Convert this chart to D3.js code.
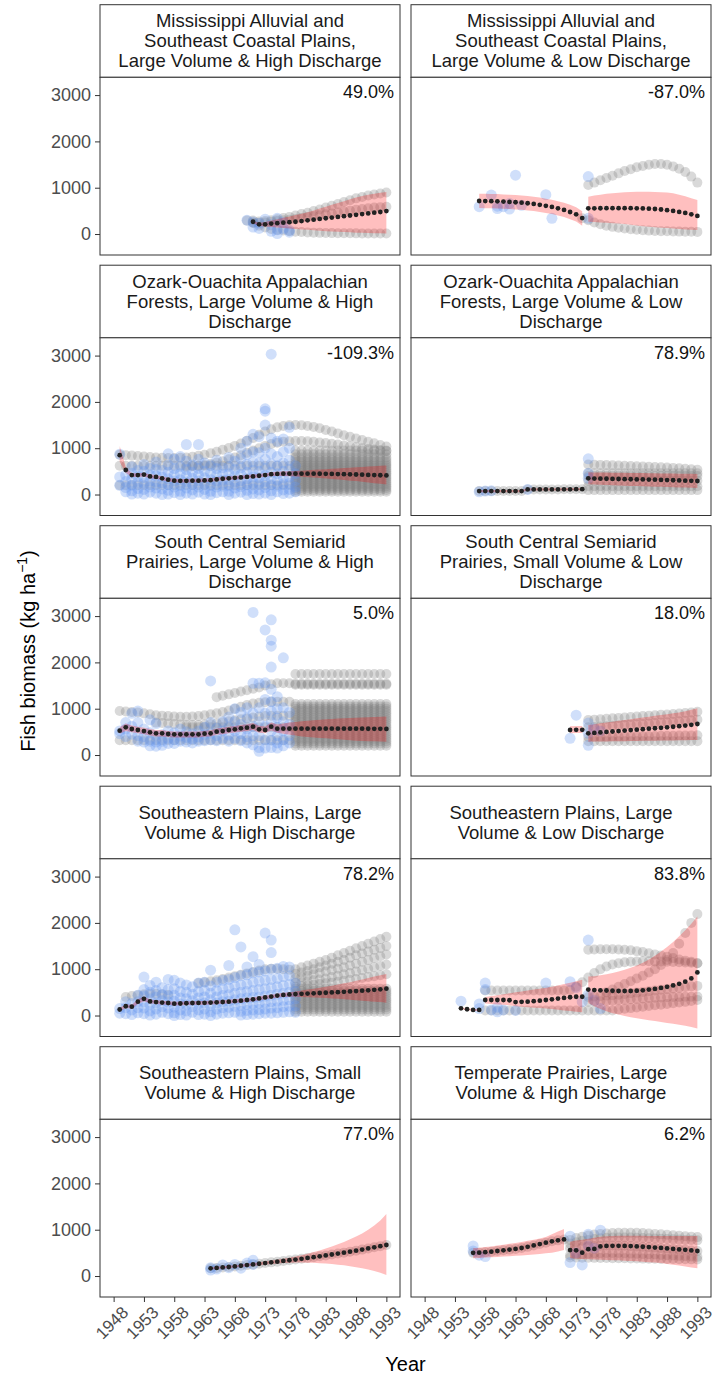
<!DOCTYPE html>
<html>
<head>
<meta charset="utf-8">
<script src="https://cdn.jsdelivr.net/npm/d3@7"></script>
<style>
  body { margin: 0; background: #fff; }
  svg { display: block; }
  text { font-family: "Liberation Sans", Arial, Helvetica, sans-serif; }
</style>
</head>
<body>
<svg id="chart"></svg>
<script>
// ---- axis ticks and facet labels
const xTickYears = [1948, 1953, 1958, 1963, 1968, 1973, 1978, 1983, 1988, 1993];
const yTickValues = [0, 1000, 2000, 3000];

const facetTitles = [
  ["Mississippi Alluvial and", "Southeast Coastal Plains,", "Large Volume & High Discharge"],
  ["Mississippi Alluvial and", "Southeast Coastal Plains,", "Large Volume & Low Discharge"],
  ["Ozark-Ouachita Appalachian", "Forests, Large Volume & High", "Discharge"],
  ["Ozark-Ouachita Appalachian", "Forests, Large Volume & Low", "Discharge"],
  ["South Central Semiarid", "Prairies, Large Volume & High", "Discharge"],
  ["South Central Semiarid", "Prairies, Small Volume & Low", "Discharge"],
  ["Southeastern Plains, Large", "Volume & High Discharge"],
  ["Southeastern Plains, Large", "Volume & Low Discharge"],
  ["Southeastern Plains, Small", "Volume & High Discharge"],
  ["Temperate Prairies, Large", "Volume & High Discharge"]
];
const pctLabels = ["49.0%", "-87.0%", "-109.3%", "78.9%", "5.0%", "18.0%", "78.2%", "83.8%", "77.0%", "6.2%"];

// mean series: [firstYear, values]  /  ribbons: [firstYear, lower, upper]
// grey trajectories: [firstYear, values]  /  grey flat runs: [fromYear, toYear, levels]
// observed (blue): [year, values]

// 1. Mississippi, large volume & high discharge
const missHighMean = [[1971, [265,210,210,225,235,245,255,265,280,295,310,325,340,355,370,385,400,415,430,445,460,475,495]]];
const missHighRibbon = [[1971,
  [230,180,165,150,140,130,120,110,100,90,80,70,62,55,48,42,36,30,26,22,18,15,12],
  [290,240,260,290,320,350,380,410,440,470,510,550,590,630,670,710,750,790,820,850,870,890,905]]];
const missHighGrey = [
  [1970, [290,290,270,280,300,320,345,370,400,430,460,495,530,570,610,650,690,730,770,800,830,855,875,895]],
  [1971, [250,240,250,265,280,295,310,325,345,365,385,405,425,445,465,485,505,525,540,555,570,580,590]],
  [1971, [240,180,140,110,90,75,60,50,42,35,30,25,22,20,18,16,15,14,13,12,12,12,12]]
];
const missHighFlat = [];
const missHighBlue = [[1970,[300]],[1971,[260,150]],[1972,[120,230]],[1973,[320]],[1974,[200,60]],[1975,[340,90,10]],[1976,[120,250]],[1977,[80,40]]];

// 2. Mississippi, large volume & low discharge
const missLowMean = [
  [1957, [713,712,710,706,700,694,686,676,664,650,630,608,585,555,520,475,425,345]],
  [1975, [555,555,556,557,558,558,558,557,555,552,548,540,530,515,498,478,455,425,390]]
];
const missLowRibbon = [
  [1957, [560,558,556,552,546,540,532,522,510,496,476,454,430,400,365,320,270,180],
         [870,868,866,862,856,850,842,832,820,806,786,764,740,710,675,630,580,490]],
  [1975, [266,258,250,242,235,228,215,200,185,170,158,148,138,128,118,108,100,92,86],
         [806,830,850,868,882,893,902,908,912,914,913,910,904,895,878,850,815,775,734]]
];
const missLowGrey = [
  [1975, [1060,1110,1160,1210,1260,1310,1360,1400,1440,1470,1495,1510,1510,1495,1460,1410,1340,1240,1110]],
  [1974, [340,300,250,210,180,155,135,118,104,92,82,74,67,62,58,55,52,50,48,46]]
];
const missLowFlat = [];
const missLowBlue = [[1957,[590]],[1959,[840]],[1960,[550,600]],[1961,[590]],[1962,[660,540]],[1963,[1270]],[1964,[620]],[1968,[850]],[1969,[340]],[1975,[1240,340]]];

// 3. Ozark-Ouachita, large volume & high discharge
const ozHighMean = [[1949, [850,530,420,420,430,390,380,350,320,300,295,295,300,300,305,310,325,340,350,360,
  370,380,390,405,420,440,445,450,450,450,450,450,450,448,446,444,442,440,436,432,428,424,420,416,412]]];
const ozHighRibbon = [[1949,
  [700,470,380,380,390,350,340,310,280,265,260,260,265,265,270,275,290,305,315,325,
   335,345,355,370,385,400,400,400,395,390,385,375,365,355,345,335,325,315,300,290,275,260,245,230,215],
  [1050,600,460,460,470,430,420,390,360,340,335,335,340,340,345,350,365,380,390,400,
   410,420,430,445,460,480,490,500,505,510,515,525,535,540,548,556,564,572,580,588,596,604,612,620,628]]];
const ozHighGrey = [
  [1949, [860,850,840,830,820,810,800,795,790,790,795,800,815,835,860,890,925,965,1005,1050,
    1100,1160,1220,1290,1360,1410,1450,1480,1495,1500,1495,1480,1460,1430,1395,1360,1320,1280,1245,1210,1175,1140,1105,1070,1035]],
  [1960, [600,610,620,640,660,690,720,760,800,850,900,950,1000,1050,1090,1120,1140,1150,1155,1155,
    1150,1140,1125,1110,1095,1080,1060,1040,1020,1000,985,970,955,940]]
];
const ozHighFlat = [
  [1949, 1977, [200, 620]],
  [1978, 1993, [60,100,140,180,220,260,300,340,380,420,460,500,540,580,620,660,700,750,800,870,950]]
];
const ozHighBlue = [
  [1949,[870,380,200]],[1950,[420,280,150,60]],[1951,[600,460,330,200,80,10]],[1952,[520,390,260,130,30]],
  [1953,[650,500,370,240,110,10]],[1954,[560,420,290,160,50]],[1955,[700,540,400,270,140,30]],
  [1956,[520,380,250,120,0]],[1957,[880,640,480,340,210,90,10]],[1958,[760,560,420,290,160,40]],
  [1959,[820,600,450,320,190,70,0]],[1960,[1080,720,540,400,270,140,30]],[1961,[640,480,350,220,100,10]],
  [1962,[1080,760,560,420,290,160,50]],[1963,[680,500,360,230,110,10]],[1964,[620,460,320,190,70,0]],
  [1965,[740,560,420,290,160,40]],[1966,[580,440,310,180,60]],[1967,[800,600,450,320,190,70,0]],
  [1968,[720,540,400,270,140,30]],[1969,[1000,780,580,430,300,170,50]],[1970,[1150,860,650,480,340,210,90,0]],
  [1971,[1300,920,700,520,380,250,120,20]],[1972,[1250,900,680,500,360,230,100,10]],
  [1973,[1850,1800,1500,1000,760,560,410,280,150,30]],[1974,[3030,1220,880,660,480,340,210,80,0]],
  [1975,[1150,820,620,450,310,180,60]],[1976,[1200,920,680,500,360,230,100,20]],
  [1977,[1450,1000,740,540,380,240,110,30]],[1978,[620,450,300,160,60]]
];

// 4. Ozark-Ouachita, large volume & low discharge
const ozLowMean = [
  [1957, [75,75,75,75,75,75,75,75,110,110,110,110,110,110,112,112,115,115]],
  [1975, [350,345,342,340,337,335,332,330,327,325,322,320,316,312,308,304,300,296,292]]
];
const ozLowRibbon = [
  [1957, [50,50,50,50,50,50,50,50,85,85,85,85,85,85,85,88,90,90],
         [100,100,100,100,100,100,100,100,135,135,135,135,135,135,140,140,140,140]],
  [1975, [220,215,210,205,200,195,190,186,182,178,174,170,166,162,158,154,150,146,142],
         [480,478,476,474,472,470,468,466,464,462,460,458,456,454,452,450,448,446,444]]
];
const ozLowGrey = [
  [1957, [75,75,75,75,75,75,75,75,110,110,110,110,110,110,112,112,115,115]],
  [1975, [650,645,640,635,630,625,620,615,610,605,600,595,590,585,575,565,555,545,535]]
];
const ozLowFlat = [[1975, 1993, [95, 180, 300, 400, 460]]];
const ozLowBlue = [[1957,[60]],[1958,[75]],[1959,[80]],[1965,[110]],[1975,[770,460,350]]];

// 5. South Central Semiarid, large volume & high discharge
const scHighMean = [[1949, [526,598,562,540,518,490,468,468,454,446,446,446,446,446,460,468,504,518,540,554,
  576,590,612,554,540,612,569,569,569,569,569,569,569,569,569,569,569,569,569,569,568,567,566,565,564]]];
const scHighRibbon = [[1949,
  [460,520,490,470,450,420,400,400,390,380,380,380,380,380,395,400,435,450,470,485,
   505,520,540,480,470,530,480,460,440,420,400,390,380,370,360,350,340,330,320,310,305,300,295,290,285],
  [600,680,640,610,590,560,540,540,520,510,510,510,510,510,525,535,575,590,610,625,
   650,665,690,630,615,700,660,680,700,715,730,740,750,760,770,780,790,795,800,805,810,815,820,825,830]]];
const scHighGrey = [
  [1949, [950,940,930,920,900,880,860,850,840,830,825,825,830,840,860,880,900,930,960,1000,1040,1080,1110,1130,1140,1150,1150,1150,1150]],
  [1965, [1250,1280,1310,1340,1370,1400,1430,1460,1500,1530,1550,1550,1550]],
  [1955, [700,690,680,670,660,650,650,650,660,670,690,710,730,750,770,790,810,830,840,850,850,850,850]]
];
const scHighFlat = [
  [1949, 1977, [320]],
  [1960, 1977, [600]],
  [1978, 1993, [200,250,300,350,400,450,500,550,600,650,700,750,800,850,900,950,1000,1050,1100,1520,1540,1750]]
];
const scHighBlue = [
  [1949,[520,460]],[1950,[700,560,400]],[1951,[900,620,450]],[1952,[950,700,420,300]],[1953,[560,400,280]],
  [1954,[760,480,300,200]],[1955,[680,420,280,190]],[1956,[440,300,210]],[1957,[520,360,250]],
  [1958,[480,330,250]],[1959,[560,410,300]],[1960,[500,380,280]],[1961,[460,350,260]],[1962,[520,390,300]],
  [1963,[600,440,310]],[1964,[1600,700,470,330]],[1965,[580,420,310]],[1966,[720,520,360]],
  [1967,[820,610,430,300]],[1968,[1000,720,520,360]],[1969,[920,660,460,310]],[1970,[1020,800,560,400,260]],
  [1971,[3080,1550,900,620,420,220]],[1972,[1550,1020,720,420,160,80]],[1973,[2700,1560,1200,900,620,330,150]],
  [1974,[2920,2480,2350,1900,1420,1150,950,720,520,320,160]],[1975,[1260,1000,800,600,420,260,150]],
  [1976,[2100,1020,720,520,330,200]],[1977,[920,660,420,260]]
];

// 6. South Central Semiarid, small volume & low discharge
const scLowMean = [
  [1972, [540,545,545]],
  [1975, [468,478,488,498,508,518,528,538,548,558,568,578,588,598,610,622,636,652,670]]
];
const scLowRibbon = [
  [1972, [470,475,475], [620,625,625]],
  [1975, [288,290,292,294,296,298,300,302,304,306,308,310,312,314,316,318,320,322,324],
         [648,666,684,702,720,738,756,774,792,810,828,846,864,882,900,920,945,975,1008]]
];
const scLowGrey = [
  [1975, [756,764,774,784,792,802,812,820,830,840,848,858,868,876,886,896,906,918,936]],
  [1975, [600,606,614,622,630,640,646,654,662,670,680,690,700,708,718,728,740,752,764]],
  [1975, [390,392,394,397,399,400,402,405,406,408,410,412,414,416,418,420,422,424,426]]
];
const scLowFlat = [[1975, 1993, [300]]];
const scLowBlue = [[1972,[360]],[1973,[860]],[1975,[690,470,210]],[1976,[560]],[1977,[520]]];

// 7. Southeastern Plains, large volume & high discharge
const seHighMean = [[1949, [130,200,190,300,360,305,290,280,270,255,260,265,270,272,275,280,285,292,300,310,
  320,335,350,370,390,410,430,445,455,462,468,474,480,486,492,498,505,512,520,528,536,545,555,565,580]]];
const seHighRibbon = [[1949,
  [90,160,150,250,310,265,250,240,230,215,220,225,230,232,235,240,245,252,260,270,
   280,295,310,330,350,370,390,400,405,405,400,395,390,385,380,370,360,350,340,330,320,310,300,290,277],
  [170,240,230,350,410,345,330,320,310,295,300,305,310,312,315,320,325,332,340,350,
   360,375,390,410,430,450,470,490,505,520,540,560,580,600,620,645,670,695,720,750,780,810,840,870,897]]];
const seHighGrey = [
  [1978, [1000,1040,1080,1120,1160,1200,1250,1300,1350,1400,1450,1500,1550,1600,1650,1700]],
  [1978, [900,930,960,1000,1040,1080,1120,1160,1200,1250,1300,1340,1380,1420,1460,1500]],
  [1978, [800,830,860,890,920,950,980,1010,1040,1080,1120,1160,1200,1240,1280,1320]],
  [1978, [700,720,740,760,780,800,830,860,890,920,950,980,1010,1040,1070,1100]],
  [1978, [620,635,650,665,680,695,710,730,750,770,790,810,830,850,870,890]],
  [1962, [700,720,740,760,790,820,850,880,910,940,970,1000,1010,1010,1000,990]],
  [1950, [400,420,440,460,470,470,460,450]]
];
const seHighFlat = [[1978, 1993, [80,130,180,230,280,330,380,430,480,530,580]]];
const seHighBlue = [
  [1949,[150,50]],[1950,[300,170,40]],[1951,[260,120,20]],[1952,[440,300,170,60]],[1953,[830,560,420,290,160,40]],
  [1954,[650,500,360,230,100,10]],[1955,[720,540,400,270,140,30]],[1956,[600,450,320,190,70]],
  [1957,[780,560,420,290,160,40]],[1958,[760,580,440,310,180,60,0]],[1959,[700,520,380,250,120,20]],
  [1960,[660,500,360,230,100,10]],[1961,[620,460,320,190,70]],[1962,[700,520,380,250,120,20]],
  [1963,[720,540,400,270,140,30]],[1964,[980,640,480,340,210,80,0]],[1965,[720,540,400,270,140,30]],
  [1966,[760,580,430,300,170,50]],[1967,[1080,780,600,450,310,180,60]],[1968,[1850,820,640,480,340,200,70]],
  [1969,[1480,860,660,500,360,220,90,10]],[1970,[1050,880,680,520,380,240,110,20]],
  [1971,[1270,920,720,540,390,250,120,30]],[1972,[1100,940,740,560,400,260,130,40]],
  [1973,[1780,960,760,580,420,280,140,50]],[1974,[1630,1360,1000,780,600,440,300,160,50]],
  [1975,[1020,800,620,460,310,170,60]],[1976,[1060,840,650,480,330,190,70]],
  [1977,[1050,860,670,500,340,200,80]],[1978,[700,520,360,210,70]]
];

// 8. Southeastern Plains, large volume & low discharge
const seLowMean = [
  [1954, [155,135,120,120]],
  [1958, [335,335,335,335,330,290,295,300,310,320,335,350,365,380,395,405,405]],
  [1975, [560,550,545,540,535,530,530,530,535,545,560,575,595,620,650,685,730,800,930]]
];
const seLowRibbon = [
  [1954, [135,115,100,100], [175,155,140,140]],
  [1958, [260,250,240,230,220,200,190,180,170,160,150,140,125,110,95,80,70],
         [400,420,440,460,480,500,520,540,560,580,600,620,650,680,710,740,770]],
  [1975, [270,200,140,90,50,20,-10,-35,-60,-80,-100,-120,-140,-160,-180,-200,-220,-250,-280],
         [840,850,870,890,920,950,990,1030,1080,1140,1210,1290,1380,1480,1590,1710,1840,1980,2140]]
];
const seLowGrey = [
  [1975, [1420,1425,1430,1430,1430,1425,1420,1410,1390,1370,1345,1320,1295,1270,1240,1210,1185,1160,1130]],
  [1972, [550,620,720,820,920,1000,1060,1100,1130,1150,1160,1165,1170,1170,1168,1165,1160,1155,1150,1145,1140,1130]],
  [1978, [500,560,620,680,740,800,860,930,1000,1090,1200,1350,1550,1780,2000,2190]],
  [1975, [400,410,420,430,440,450,465,480,495,510,525,540,555,570,585,600,615,630,640]],
  [1975, [300,305,310,315,320,330,340,350,360,370,380,385,390,395,400,403,405,407,410]],
  [1980, [130,145,160,175,190,205,220,235,250,265,280,295,315,335]]
];
const seLowFlat = [[1958, 1971, [540]], [1958, 1979, [110]]];
const seLowBlue = [[1954,[310]],[1957,[250,150]],[1958,[700,560]],[1959,[120]],[1960,[80,180]],[1961,[120]],
  [1963,[110]],[1968,[700]],[1972,[730]],[1973,[600]],[1974,[300]],[1975,[1630,450]],[1976,[330]],[1977,[150]]];

// 9. Southeastern Plains, small volume & high discharge
const seSmallMean = [[1964, [166,175,185,195,208,222,236,250,265,280,295,310,325,340,355,372,390,408,426,445,
  465,485,505,525,547,570,595,620,645,670]]];
const seSmallRibbon = [[1964,
  [140,150,160,170,182,195,208,220,235,248,260,270,280,286,290,290,288,284,278,270,
   258,245,230,212,192,170,140,110,70,20],
  [192,200,210,220,234,249,264,280,295,312,330,350,372,396,422,450,482,516,552,592,
   636,684,736,792,852,920,1000,1090,1200,1340]]];
const seSmallGrey = [[1964, [166,175,185,195,208,222,236,250,265,280,295,310,325,340,355,372,390,408,426,445,
  465,485,505,525,547,570,595,620,645,670]]];
const seSmallFlat = [];
const seSmallBlue = [[1964,[130,180]],[1965,[150]],[1966,[240]],[1967,[180]],[1968,[250]],[1969,[170]],[1970,[280]],[1971,[340,250]]];

// 10. Temperate Prairies, large volume & high discharge
const tempMean = [
  [1956, [500,505,515,525,540,555,570,585,605,630,660,690,720,750,770,790]],
  [1972, [560,555,505,580,585,640,650,652,652,650,646,640,632,624,615,606,596,586,575,565,552,540]]
];
const tempRibbon = [
  [1956, [382,390,398,405,412,420,428,436,445,455,466,478,490,505,530,562],
         [598,610,625,640,658,676,695,715,737,760,785,812,840,900,960,1015]],
  [1972, [382,375,368,362,356,350,346,342,338,332,326,318,310,300,290,280,262,245,225,205,185,166],
         [742,765,785,805,825,850,860,866,870,872,872,870,868,866,864,864,864,864,864,864,864,864]]
];
const tempGrey = [
  [1956, [500,505,515,525,540,555,570,585,605,630,660,690,720,750,770,790]],
  [1972, [780,820,850,875,895,910,920,928,932,935,935,932,928,920,910,900,890,880,870,860,850,840]],
  [1972, [700,730,760,780,800,815,825,830,832,832,830,826,822,816,810,804,798,792,786,780,776,770]],
  [1972, [600,610,625,640,650,655,658,658,656,652,646,640,632,624,615,606,596,586,575,565,552,540]],
  [1972, [450,460,470,480,490,495,498,498,496,492,488,482,476,470,463,456,449,442,435,428,421,414]],
  [1972, [400,398,396,394,392,390,388,386,384,382,380,378,376,374,372,370,368,366,364,362,360,358]]
];
const tempFlat = [];
const tempBlue = [[1956,[650,540]],[1957,[450]],[1958,[420]],[1972,[860,290]],[1973,[500]],[1974,[240]],[1975,[900,650]],[1976,[600]],[1977,[990]]];

// ---- facet table, built from the arrays above
const panelData = [
  [missHighMean, missHighRibbon, missHighGrey, missHighFlat, missHighBlue],
  [missLowMean, missLowRibbon, missLowGrey, missLowFlat, missLowBlue],
  [ozHighMean, ozHighRibbon, ozHighGrey, ozHighFlat, ozHighBlue],
  [ozLowMean, ozLowRibbon, ozLowGrey, ozLowFlat, ozLowBlue],
  [scHighMean, scHighRibbon, scHighGrey, scHighFlat, scHighBlue],
  [scLowMean, scLowRibbon, scLowGrey, scLowFlat, scLowBlue],
  [seHighMean, seHighRibbon, seHighGrey, seHighFlat, seHighBlue],
  [seLowMean, seLowRibbon, seLowGrey, seLowFlat, seLowBlue],
  [seSmallMean, seSmallRibbon, seSmallGrey, seSmallFlat, seSmallBlue],
  [tempMean, tempRibbon, tempGrey, tempFlat, tempBlue]
];

// ---- layout
const width = 717, height = 1375;
const colLeft = [100, 411];
const panelW = 300;
const firstTop = 4.7, rowStep = 260.5;
const stripH = 72.6, panelH = 177.7;

const x = d3.scaleLinear().domain([1945.75, 1995.25]).range([0, panelW]);
const y = d3.scaleLinear().domain([-453, 3384]).range([panelH, 0]);

const svg = d3.select("#chart").attr("width", width).attr("height", height);

// helpers to expand the arrays into points
function seriesPoints(list) {
  const pts = [];
  list.forEach(([y0, vals]) => vals.forEach((v, i) => pts.push({ year: y0 + i, value: v })));
  return pts;
}
function flatPoints(list) {
  const pts = [];
  list.forEach(([from, to, levels]) => levels.forEach(v => {
    for (let yr = from; yr <= to; yr++) pts.push({ year: yr, value: v });
  }));
  return pts;
}
function bluePoints(list) {
  const pts = [];
  list.forEach(([yr, vals]) => vals.forEach(v => pts.push({ year: yr, value: v })));
  return pts;
}

const area = d3.area()
  .x(d => x(d.year))
  .y0(d => y(d.lo))
  .y1(d => y(d.hi));

panelData.forEach((pd, i) => {
  const [mean, ribbon, grey, flat, blue] = pd;
  const col = i % 2, row = Math.floor(i / 2);
  const top = firstTop + row * rowStep;
  const left = colLeft[col];

  // strip
  const strip = svg.append("g").attr("transform", `translate(${left},${top})`);
  strip.append("rect")
    .attr("width", panelW).attr("height", stripH)
    .attr("fill", "#fff").attr("stroke", "#333").attr("stroke-width", 1);
  const lines = facetTitles[i];
  const lh = 20;
  const y0 = stripH / 2 - (lines.length - 1) * lh / 2;
  strip.selectAll("text.title").data(lines).join("text")
    .attr("class", "title")
    .attr("x", panelW / 2)
    .attr("y", (d, k) => y0 + k * lh)
    .attr("dy", "0.35em")
    .attr("text-anchor", "middle")
    .attr("font-size", 18.5)
    .attr("fill", "#1a1a1a")
    .text(d => d);

  // panel
  const g = svg.append("g").attr("transform", `translate(${left},${top + stripH})`);
  const clipId = "clip" + i;
  g.append("clipPath").attr("id", clipId)
    .append("rect").attr("width", panelW).attr("height", panelH);
  g.append("rect").attr("width", panelW).attr("height", panelH).attr("fill", "#fff");

  const plot = g.append("g").attr("clip-path", `url(#${clipId})`);

  // grey simulated trajectories
  const greyPts = flatPoints(flat).concat(seriesPoints(grey));
  plot.append("g").selectAll("circle").data(greyPts).join("circle")
    .attr("cx", d => x(d.year)).attr("cy", d => y(d.value))
    .attr("r", 5)
    .attr("fill", "#808080").attr("fill-opacity", 0.3);

  // observed biomass
  plot.append("g").selectAll("circle").data(bluePoints(blue)).join("circle")
    .attr("cx", d => x(d.year)).attr("cy", d => y(d.value))
    .attr("r", 5.5)
    .attr("fill", "#6495ED").attr("fill-opacity", 0.3);

  // confidence ribbons
  ribbon.forEach(([y0r, lo, hi]) => {
    const rows = lo.map((l, k) => ({ year: y0r + k, lo: l, hi: hi[k] }));
    plot.append("path").datum(rows)
      .attr("d", area)
      .attr("fill", "#ff0000").attr("fill-opacity", 0.25);
  });

  // mean trajectory
  plot.append("g").selectAll("circle").data(seriesPoints(mean)).join("circle")
    .attr("cx", d => x(d.year)).attr("cy", d => y(d.value))
    .attr("r", 2.4)
    .attr("fill", "#222");

  // percentage label
  g.append("text")
    .attr("x", panelW - 6).attr("y", 21)
    .attr("text-anchor", "end")
    .attr("font-size", 18)
    .attr("fill", "#111")
    .text(pctLabels[i]);

  // border
  g.append("rect").attr("width", panelW).attr("height", panelH)
    .attr("fill", "none").attr("stroke", "#333").attr("stroke-width", 1);

  // y axis on left column
  if (col === 0) {
    const ax = g.append("g")
      .call(d3.axisLeft(y).tickValues(yTickValues).tickSize(5).tickPadding(4).tickFormat(d3.format("d")));
    ax.select(".domain").remove();
    ax.selectAll("line").attr("stroke", "#333");
    ax.selectAll("text").attr("font-size", 18).attr("fill", "#4d4d4d")
      .attr("font-family", "Liberation Sans, Arial, sans-serif");
  }

  // x axis on bottom row
  if (row === 4) {
    const ax = g.append("g").attr("transform", `translate(0,${panelH})`)
      .call(d3.axisBottom(x).tickValues(xTickYears).tickSize(5).tickFormat(d3.format("d")));
    ax.select(".domain").remove();
    ax.selectAll("line").attr("stroke", "#333");
    ax.selectAll("text")
      .attr("font-size", 17).attr("fill", "#4d4d4d")
      .attr("font-family", "Liberation Sans, Arial, sans-serif")
      .attr("text-anchor", "middle")
      .attr("dy", null)
      .attr("y", null)
      .attr("dominant-baseline", "central")
      .attr("transform", "translate(-2,26) rotate(-45)");
  }
});

// axis titles
svg.append("text")
  .attr("x", 405.5).attr("y", 1371)
  .attr("text-anchor", "middle")
  .attr("font-size", 20)
  .attr("fill", "#000")
  .text("Year");

const yt = svg.append("text")
  .attr("transform", "translate(35,651) rotate(-90)")
  .attr("text-anchor", "middle")
  .attr("font-size", 20)
  .attr("fill", "#000");
yt.append("tspan").text("Fish biomass (kg ha");
yt.append("tspan").attr("dy", -8).attr("font-size", 14).text("\u22121");
yt.append("tspan").attr("dy", 8).text(")");
</script>
</body>
</html>
